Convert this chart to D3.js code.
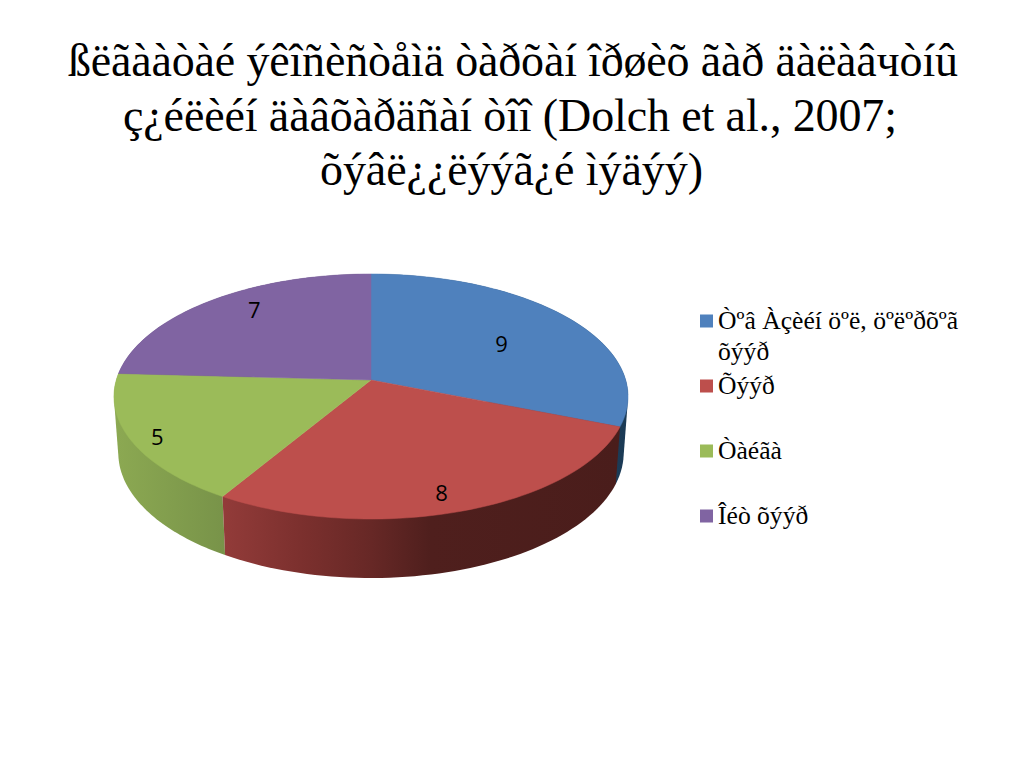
<!DOCTYPE html>
<html><head><meta charset="utf-8">
<script src="https://cdn.jsdelivr.net/npm/d3@7"></script>
<style>html,body{margin:0;padding:0;background:#fff}svg{display:block}</style>
</head><body><script>
// ---- data ----
const titleLines = ["ßëãààòàé ýêîñèñòåìä òàðõàí îðøèõ ãàð äàëàâчòíû","ç¿éëèéí äàâõàðäñàí òîî (Dolch et al., 2007;","õýâë¿¿ëýýã¿é ìýäýý)"];
const categories = ["Òºâ Àçèéí öºë, öºëºðõºã õýýð","Õýýð","Òàéãà","Îéò õýýð"];
const legendLines = [["Òºâ Àçèéí öºë, öºëºðõºã","õýýð"],["Õýýð"],["Òàéãà"],["Îéò õýýð"]];
const values = [9,8,5,7];
const topColors = ["#4f81bd","#bd4f4c","#9bbb59","#8064a2"];
// ---- layout ----
const W=1024,H=768;
const cx=371, apexY=380, A=254.7, B=120.3, k=-0.1347;
const rimScale=0.983, rimCy=453, rimRy=125, topCy=396.5, topRy=122.5;
const labelR=[.65,.8,.9,.72], labelDx=[0,-2,1,1], labelDy=[6,12,3,-11];
const titleWidths=[890,774,383];
const svg=d3.select("body").append("svg").attr("width",W).attr("height",H);
const defs=svg.append("defs");
const sideStops=[
 [[118,"#3a5d86"],[628,"#1b3a55"]],
 [[225,"#923b39"],[300,"#7c302e"],[371,"#672826"],[430,"#4f1f1d"],[620,"#4a1d1b"]],
 [[114,"#8ca952"],[225,"#789349"]],
 [[114,"#5d4a78"],[371,"#4a3a60"]]
];
sideStops.forEach((st,i)=>{
  const g=defs.append("linearGradient").attr("id","side"+i).attr("gradientUnits","userSpaceOnUse")
    .attr("x1",st[0][0]).attr("x2",st[st.length-1][0]).attr("y1",0).attr("y2",0);
  const f=d3.scaleLinear().domain([st[0][0],st[st.length-1][0]]).range([0,1]);
  st.forEach(s=>g.append("stop").attr("offset",f(s[0])).attr("stop-color",s[1]));
});
// projective tilt of the pie disc
function project(a,r=1){
  const u=Math.sin(a)*r, v=-Math.cos(a)*r, w=1+k*v;
  return [cx+A*u/w, apexY+B*v/w];
}
function lower(p){ return [cx+rimScale*(p[0]-cx), rimCy+(p[1]-topCy)*rimRy/topRy]; }
const arcs=d3.pie().sort(null).startAngle(0).endAngle(2*Math.PI)(values);
const rim=d=>d3.range(0,61).map(i=>project(d.startAngle+(d.endAngle-d.startAngle)*i/60));
const line=d3.line();
// sides, back to front
[3,0,2,1].forEach(i=>{
  const pts=rim(arcs[i]);
  const hull=d3.polygonHull(pts.concat(pts.map(lower)));
  svg.append("path").attr("d",line(hull)+"Z").attr("fill","url(#side"+i+")");
});
// top faces
arcs.forEach((d,i)=>{
  svg.append("path").attr("d",line([[cx,apexY],...rim(d)])+"Z").attr("fill",topColors[i])
    .attr("stroke",topColors[i]).attr("stroke-width",0.5);
});
// value labels
arcs.forEach((d,i)=>{
  const p=project((d.startAngle+d.endAngle)/2,labelR[i]);
  svg.append("text").attr("x",p[0]+labelDx[i]).attr("y",p[1]+labelDy[i]).attr("dy","0.36em")
    .attr("text-anchor","middle").attr("font-family","'Open Sans',sans-serif").attr("font-size",22)
    .attr("fill","#000").text(d.data);
});
// title
svg.append("g").selectAll("text").data(titleLines).join("text")
  .attr("x",(d,i)=>[513,510,511.5][i]).attr("y",(d,i)=>76+i*54.5).attr("text-anchor","middle")
  .attr("textLength",(d,i)=>titleWidths[i]).attr("lengthAdjust","spacing")
  .attr("font-family","'Liberation Serif',serif").attr("font-size",46).attr("fill","#000").text(d=>d);
// legend
const legendY=[321,386,451,516];
const leg=svg.append("g");
legendLines.forEach((ls,i)=>{
  leg.append("rect").attr("x",700).attr("y",legendY[i]-6.5).attr("width",13).attr("height",13).attr("fill",topColors[i]);
  ls.forEach((t,j)=>leg.append("text").attr("x",718).attr("y",legendY[i]+8+j*31)
    .attr("font-family","'Liberation Serif',serif").attr("font-size",25.6).attr("fill","#000").text(t));
});
</script></body></html>
